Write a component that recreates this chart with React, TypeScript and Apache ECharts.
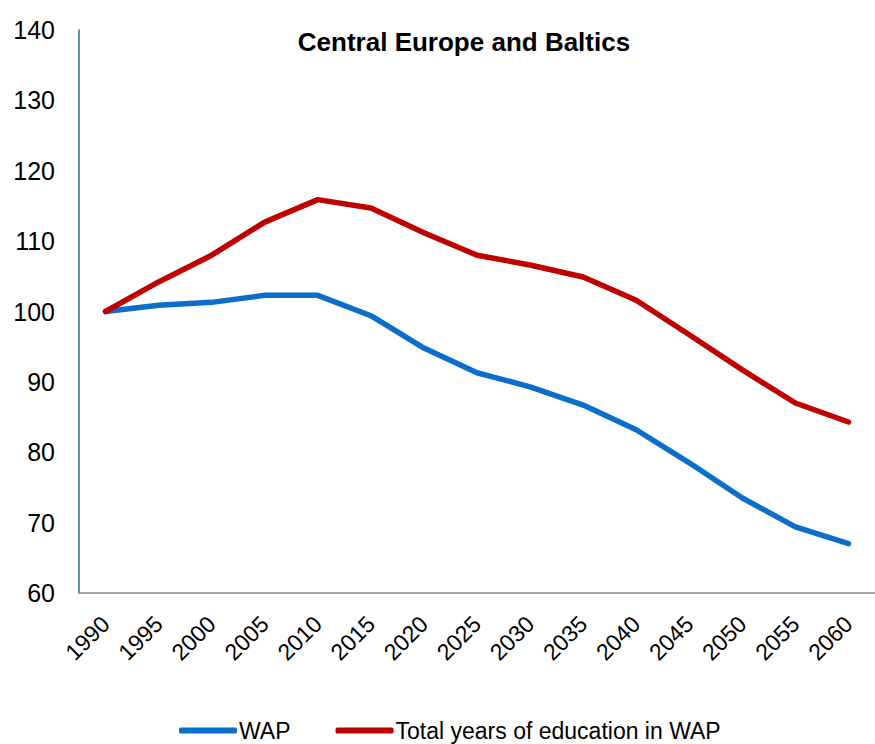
import React, { useEffect, useRef } from "react";
import * as echarts from "echarts";

const years = ["1990","1995","2000","2005","2010","2015","2020","2025","2030","2035","2040","2045","2050","2055","2060"];
const wap = [100, 100.9, 101.3, 102.3, 102.3, 99.4, 94.8, 91.3, 89.3, 86.7, 83.2, 78.5, 73.5, 69.4, 67.0];
const eduWap = [100, 104.2, 108.0, 112.7, 115.9, 114.7, 111.2, 108.0, 106.6, 104.9, 101.6, 96.7, 91.7, 87.0, 84.3];
const seriesNames = ["WAP", "Total years of education in WAP"];
const titleText = "Central Europe and Baltics";

export default function App() {
  const ref = useRef<HTMLDivElement>(null);
  useEffect(() => {
    if (!ref.current) return;
    const chart = echarts.init(ref.current, null, { renderer: "svg" });
    const font = "Liberation Sans, Arial, sans-serif";
    chart.setOption({
      animation: false,
      title: {
        text: titleText,
        left: 464,
        top: 29,
        textAlign: "center",
        padding: 0,
        textStyle: { fontFamily: font, fontSize: 26, fontWeight: "bold", color: "#000" },
      },
      legend: {
        top: 719,
        left: 179,
        padding: 0,
        icon: "roundRect",
        itemWidth: 58,
        itemHeight: 6,
        itemGap: 45,
        textStyle: { fontFamily: font, fontSize: 23, lineHeight: 22, color: "#000", padding: [0, 0, 0, -3] },
        data: seriesNames,
      },
      grid: { left: 79, top: 30, bottom: 151, width: 802.5, containLabel: false },
      xAxis: {
        type: "category",
        data: years,
        boundaryGap: true,
        axisLine: { lineStyle: { color: "#898989", width: 1.5 } },
        axisTick: { show: false },
        axisLabel: { rotate: 45, fontFamily: font, fontSize: 23, color: "#000", margin: 27, interval: 0 },
      },
      yAxis: {
        type: "value",
        min: 60,
        max: 140,
        interval: 10,
        splitLine: { show: false },
        axisLine: { show: true, lineStyle: { color: "#2f6f80", width: 1.5 } },
        axisTick: { show: false },
        axisLabel: { fontFamily: font, fontSize: 25, color: "#000", margin: 24 },
      },
      series: [
        {
          name: seriesNames[0],
          type: "line",
          data: wap,
          symbol: "none",
          lineStyle: { color: "#0a6ecc", width: 5.5, cap: "round", join: "round" },
          itemStyle: { color: "#0a6ecc" },
        },
        {
          name: seriesNames[1],
          type: "line",
          data: eduWap,
          symbol: "none",
          lineStyle: { color: "#c00000", width: 5.5, cap: "round", join: "round" },
          itemStyle: { color: "#c00000" },
        },
      ],
    });
    return () => chart.dispose();
  }, []);
  return <div ref={ref} style={{ position: "absolute", left: 0, top: 0, width: 875, height: 744 }} />;
}
